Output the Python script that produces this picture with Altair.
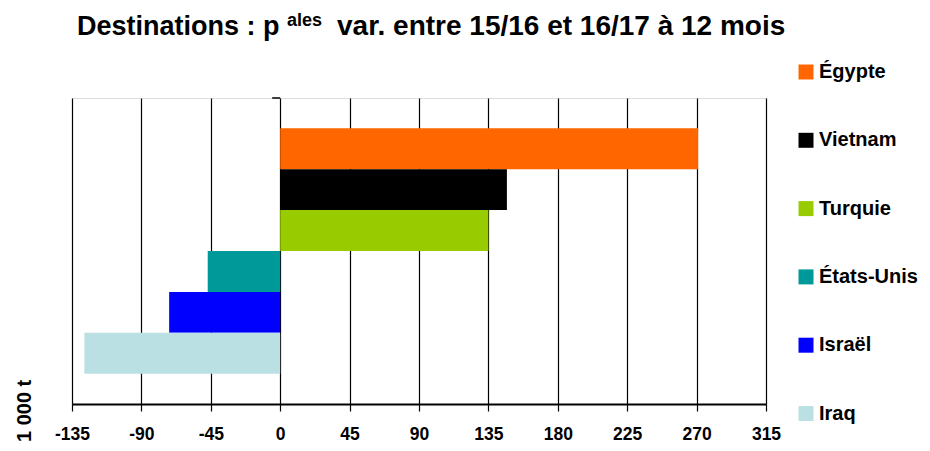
import altair as alt
import pandas as pd

countries = ["Égypte", "Vietnam", "Turquie", "États-Unis", "Israël", "Iraq"]
values = [271, 147, 135, -47, -72, -127]
colors = ["#FF6600", "#000000", "#99CC00", "#009999", "#0000FF", "#BBE0E3"]
x_ticks = [-135, -90, -45, 0, 45, 90, 135, 180, 225, 270, 315]

FONT = "Liberation Sans"
df = pd.DataFrame({"pays": countries, "val": values})

xscale = alt.Scale(domain=[-135, 315], nice=False, zero=False)

bars = alt.Chart(df).mark_bar().encode(
    x=alt.X("val:Q", scale=xscale,
            axis=alt.Axis(values=x_ticks, title=None, grid=True, gridColor="#000000",
                          gridOpacity=1, gridWidth=1.2, domainColor="#000000", domainWidth=2,
                          tickColor="#000000", tickSize=7, tickWidth=1.2,
                          labelFont=FONT, labelFontSize=17.5, labelFontWeight="bold",
                          labelColor="#000000", labelPadding=14, labelFlush=False,
                          labelExpr="replace(datum.label, '\u2212', '-')")),
    x2=alt.datum(0),
    y=alt.Y("pays:N", sort=countries, axis=None,
            scale=alt.Scale(paddingInner=0, paddingOuter=0.74)),
    color=alt.Color("pays:N", sort=countries,
                    scale=alt.Scale(domain=countries, range=colors),
                    legend=alt.Legend(title=None, orient="none", legendX=724, legendY=-36,
                                      symbolType="square", symbolSize=225, symbolStrokeWidth=0,
                                      labelFont=FONT, labelFontSize=20, labelFontWeight="bold",
                                      labelColor="#000000", labelOffset=3, rowPadding=48.3,
                                      padding=0)),
)

top_tick = alt.Chart(pd.DataFrame({"a": [-5.2], "b": [0]})).mark_rule(
    color="#000000", strokeWidth=1.5).encode(
    x=alt.X("a:Q", scale=xscale), x2="b:Q", y=alt.value(0))

t1 = alt.Chart(pd.DataFrame({"t": ["Destinations : p"]})).mark_text(
    font=FONT, fontSize=27, fontWeight="bold", align="left", baseline="alphabetic",
    color="#000000").encode(text="t:N", x=alt.value(5), y=alt.value(-63))
t2 = alt.Chart(pd.DataFrame({"t": ["ales"]})).mark_text(
    font=FONT, fontSize=18, fontWeight="bold", align="left", baseline="alphabetic",
    color="#000000").encode(text="t:N", x=alt.value(215), y=alt.value(-72))
t3 = alt.Chart(pd.DataFrame({"t": ["var. entre 15/16 et 16/17 à 12 mois"]})).mark_text(
    font=FONT, fontSize=28, fontWeight="bold", align="left", baseline="alphabetic",
    color="#000000").encode(text="t:N", x=alt.value(265), y=alt.value(-63))
ylab = alt.Chart(pd.DataFrame({"t": ["1 000 t"]})).mark_text(
    font=FONT, fontSize=20, fontWeight="bold", align="left", baseline="middle",
    angle=270, color="#000000").encode(text="t:N", x=alt.value(-47), y=alt.value(344))

chart = alt.layer(bars, top_tick, t1, t2, t3, ylab).properties(
    width=694, height=306,
    padding={"left": 64, "top": 90, "right": 156, "bottom": 39},
    autosize=alt.AutoSizeParams(type="none"),
).configure_view(stroke=None).configure(background="#FFFFFF")

chart.save("out.html", embed_options={"renderer": "svg", "actions": False})
